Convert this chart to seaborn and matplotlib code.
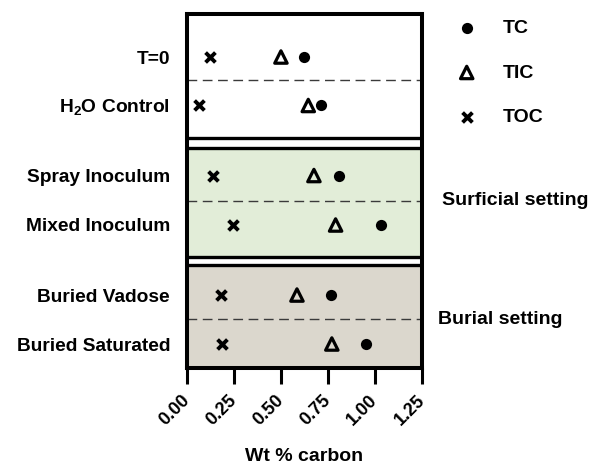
import numpy as np
import pandas as pd
import matplotlib
matplotlib.use("Agg")
import matplotlib.pyplot as plt
from matplotlib.transforms import blended_transform_factory
import seaborn as sns

# ---- data ----
treatments = ["T=0", "H$_{\\mathbf{2}}$O Control", "Spray Inoculum", "Mixed Inoculum",
              "Buried Vadose", "Buried Saturated"]
tc = [0.62, 0.71, 0.81, 1.03, 0.765, 0.95]
tic = [0.50, 0.645, 0.675, 0.79, 0.585, 0.77]
toc = [0.124, 0.065, 0.138, 0.247, 0.18, 0.185]
series_names = ["TC", "TIC", "TOC"]
x_ticks = [0.00, 0.25, 0.50, 0.75, 1.00, 1.25]
setting_labels = ["Surficial setting", "Burial setting"]

# ---- layout (row positions, panel spans) ----
row_pos = [0.0, 0.99, 2.42, 3.43, 4.86, 5.86]
y_top, y_bot = -0.878, 6.35
panel_lines = [1.653, 1.867, 4.08, 4.255]
dash_pos = [0.47, 2.93, 5.35]
green = "#E2EDD8"
tan = "#DBD7CD"

sns.set_style("ticks")
plt.rcParams["font.family"] = ["Liberation Sans", "DejaVu Sans"]
plt.rcParams["mathtext.fontset"] = "custom"
plt.rcParams["mathtext.rm"] = "Liberation Sans"
plt.rcParams["mathtext.bf"] = "Liberation Sans:bold"
for k in ["text.color", "axes.labelcolor", "xtick.color", "ytick.color", "axes.edgecolor"]:
    plt.rcParams[k] = "black"

fig = plt.figure(figsize=(5.89, 4.65), dpi=100)
W, H = 589, 465
ax = fig.add_axes([186.7 / W, 1 - 368 / H, (422.3 - 186.7) / W, (368 - 14) / H])

df = pd.DataFrame({"pos": row_pos, "TC": tc, "TIC": tic, "TOC": toc})

# backgrounds
ax.axhspan(panel_lines[1], panel_lines[2], color=green, zorder=0, lw=0)
ax.axhspan(panel_lines[3], y_bot, color=tan, zorder=0, lw=0)
for yl in panel_lines:
    ax.axhline(yl, color="black", lw=2.4, zorder=1)
for yd in dash_pos:
    ax.axhline(yd, color="#3a3a3a", lw=1.0, ls=(0, (7, 4)), zorder=1)

sns.scatterplot(data=df, x="TC", y="pos", marker="o", s=65, color="black",
                edgecolor="black", linewidth=0, label=series_names[0], ax=ax, zorder=3)
sns.scatterplot(data=df, x="TIC", y="pos", marker="^", s=80, color="black",
                facecolor="none", edgecolor="black", linewidth=2.3, label=series_names[1],
                ax=ax, zorder=3)
sns.scatterplot(data=df, x="TOC", y="pos", marker="x", s=50, color="black",
                linewidth=2.8, label=series_names[2], ax=ax, zorder=3)

ax.set_xlim(0, 1.25)
ax.set_ylim(y_bot, y_top)
ax.set_xticks(x_ticks)
ax.set_xticklabels([f"{t:.2f}" for t in x_ticks], rotation=45, ha="right",
                   va="center", rotation_mode="anchor", fontsize=13,
                   fontweight="bold")
ax.set_yticks(row_pos)
ax.set_yticklabels(treatments, fontsize=13.8, fontweight="bold")
ax.tick_params(axis="y", length=0, pad=12)
ax.tick_params(axis="x", length=11.5, width=2.2, pad=10, direction="out")
for sp in ax.spines.values():
    sp.set_linewidth(2.9)
    sp.set_color("black")
ax.set_xlabel("Wt % carbon", fontsize=14, fontweight="bold", labelpad=14)
ax.set_ylabel("")

trans = blended_transform_factory(ax.transAxes, ax.transData)
ax.text(1.082, dash_pos[1], setting_labels[0], transform=trans, ha="left",
        va="center", fontsize=14, fontweight="bold")
ax.text(1.067, dash_pos[2], setting_labels[1], transform=trans, ha="left",
        va="center", fontsize=14, fontweight="bold")

leg = ax.legend(loc="upper left", bbox_to_anchor=(457 / W, 0.958),
                bbox_transform=fig.transFigure, frameon=False, borderpad=0,
                borderaxespad=0, handlelength=1.0, handletextpad=1.36,
                labelspacing=1.38, prop={"size": 14, "weight": "bold"})

fig.savefig("out.png", dpi=100)
